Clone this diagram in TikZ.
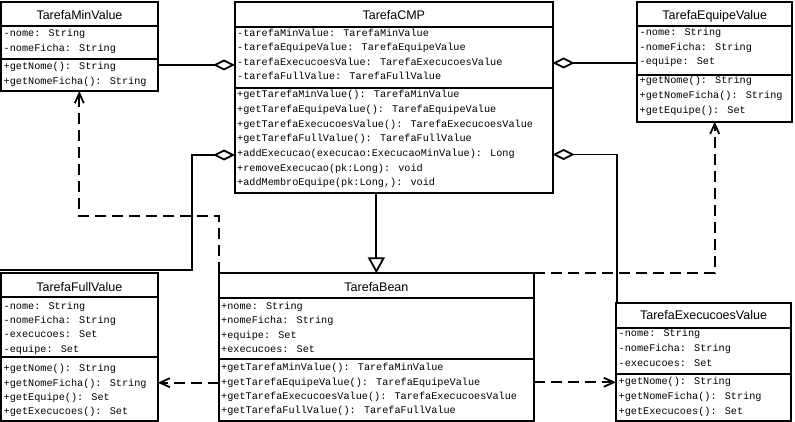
\documentclass[tikz,border=0pt]{standalone}
\usepackage{fontspec}
\setmainfont{Liberation Sans}
\newfontfamily\monof{Liberation Mono}
\usetikzlibrary{arrows.meta,calc}
\newcommand\titlef{\fontsize{12.5}{14}\selectfont}
\newcommand\memf{\monof\fontsize{10.2}{12}\selectfont}
\tikzset{
  umlbox/.style={draw, line width=1.8pt, inner sep=0pt, outer sep=0pt, anchor=north west},
  ttl/.style={font=\titlef, anchor=base, inner sep=0pt},
  mem/.style={font=\memf, anchor=base west, inner sep=0pt},
  sepline/.style={line width=1.8pt},
  agg/.style={line width=1.8pt, -{Diamond[open, length=22pt, width=11pt]}},
  gen/.style={line width=1.8pt, -{Triangle[open, length=16pt, width=17pt]}},
  dep/.style={line width=1.8pt, dash pattern=on 11pt off 6pt, -{Straight Barb[length=10pt, width=9pt]}}
}
\begin{document}
\begin{tikzpicture}[x=1pt, y=-1pt]
\fill[white] (0,0) rectangle (795,422);
\useasboundingbox (0,0) rectangle (795,422);

% ---------- TarefaMinValue ----------
\node[umlbox, minimum width=157pt, minimum height=89pt] (minv) at (1,2) {};
\draw[sepline] (minv.west |- 0,26) -- (minv.east |- 0,26);
\draw[sepline] (minv.west |- 0,59.3) -- (minv.east |- 0,59.3);
\node[ttl] (minvT) at (79.5,19.5) {TarefaMinValue};
\node[mem] (minvA1) at (3.5,36.7) {-nome: String};
\node[mem] (minvA2) at (3.5,51.2) {-nomeFicha: String};
\node[mem] (minvM1) at (3.5,70) {+getNome(): String};
\node[mem] (minvM2) at (3.5,84.5) {+getNomeFicha(): String};

% ---------- TarefaCMP ----------
\node[umlbox, minimum width=317.7pt, minimum height=190.7pt] (cmp) at (235,2) {};
\draw[sepline] (cmp.west |- 0,27) -- (cmp.east |- 0,27);
\draw[sepline] (cmp.west |- 0,88.3) -- (cmp.east |- 0,88.3);
\node[ttl] (cmpT) at (393.8,20) {TarefaCMP};
\node[mem] (cmpA1) at (237,36.5) {-tarefaMinValue: TarefaMinValue};
\node[mem] (cmpA2) at (237,51) {-tarefaEquipeValue: TarefaEquipeValue};
\node[mem] (cmpA3) at (237,65.5) {-tarefaExecucoesValue: TarefaExecucoesValue};
\node[mem] (cmpA4) at (237,80) {-tarefaFullValue: TarefaFullValue};
\node[mem] (cmpM1) at (237,97.7) {+getTarefaMinValue(): TarefaMinValue};
\node[mem] (cmpM2) at (237,112.4) {+getTarefaEquipeValue(): TarefaEquipeValue};
\node[mem] (cmpM3) at (237,127.1) {+getTarefaExecucoesValue(): TarefaExecucoesValue};
\node[mem] (cmpM4) at (237,141.8) {+getTarefaFullValue(): TarefaFullValue};
\node[mem] (cmpM5) at (237,156.5) {+addExecucao(execucao:ExecucaoMinValue): Long};
\node[mem] (cmpM6) at (237,171.2) {+removeExecucao(pk:Long): void};
\node[mem] (cmpM7) at (237,185.9) {+addMembroEquipe(pk:Long,): void};

% ---------- TarefaEquipeValue ----------
\node[umlbox, minimum width=155pt, minimum height=119.7pt] (eqv) at (637.3,2) {};
\draw[sepline] (eqv.west |- 0,26) -- (eqv.east |- 0,26);
\draw[sepline] (eqv.west |- 0,75) -- (eqv.east |- 0,75);
\node[ttl] (eqvT) at (714.8,20) {TarefaEquipeValue};
\node[mem] (eqvA1) at (639.5,36) {-nome: String};
\node[mem] (eqvA2) at (639.5,50.5) {-nomeFicha: String};
\node[mem] (eqvA3) at (639.5,65) {-equipe: Set};
\node[mem] (eqvM1) at (639.5,83.3) {+getNome(): String};
\node[mem] (eqvM2) at (639.5,98.3) {+getNomeFicha(): String};
\node[mem] (eqvM3) at (639.5,113.3) {+getEquipe(): Set};

% ---------- TarefaFullValue ----------
\node[umlbox, minimum width=156.7pt, minimum height=147.4pt] (full) at (1,273.3) {};
\draw[sepline] (full.west |- 0,297.3) -- (full.east |- 0,297.3);
\draw[sepline] (full.west |- 0,356.7) -- (full.east |- 0,356.7);
\node[ttl] (fullT) at (79.3,291.7) {TarefaFullValue};
\node[mem] (fullA1) at (3.5,309) {-nome: String};
\node[mem] (fullA2) at (3.5,323.3) {-nomeFicha: String};
\node[mem] (fullA3) at (3.5,337.7) {-execucoes: Set};
\node[mem] (fullA4) at (3.5,352.1) {-equipe: Set};
\node[mem] (fullM1) at (3.5,371.7) {+getNome(): String};
\node[mem] (fullM2) at (3.5,386) {+getNomeFicha(): String};
\node[mem] (fullM3) at (3.5,400.3) {+getEquipe(): Set};
\node[mem] (fullM4) at (3.5,414.6) {+getExecucoes(): Set};

% ---------- TarefaBean ----------
\node[umlbox, minimum width=314.7pt, minimum height=147.4pt] (bean) at (219,273.3) {};
\draw[sepline] (bean.west |- 0,297.7) -- (bean.east |- 0,297.7);
\draw[sepline] (bean.west |- 0,359.3) -- (bean.east |- 0,359.3);
\node[ttl] (beanT) at (376.4,291.7) {TarefaBean};
\node[mem] (beanA1) at (221,309.3) {+nome: String};
\node[mem] (beanA2) at (221,323.7) {+nomeFicha: String};
\node[mem] (beanA3) at (221,338.1) {+equipe: Set};
\node[mem] (beanA4) at (221,352.5) {+execucoes: Set};
\node[mem] (beanM1) at (221,370.7) {+getTarefaMinValue(): TarefaMinValue};
\node[mem] (beanM2) at (221,385) {+getTarefaEquipeValue(): TarefaEquipeValue};
\node[mem] (beanM3) at (221,399.3) {+getTarefaExecucoesValue(): TarefaExecucoesValue};
\node[mem] (beanM4) at (221,413.6) {+getTarefaFullValue(): TarefaFullValue};

% ---------- TarefaExecucoesValue ----------
\node[umlbox, minimum width=175pt, minimum height=118pt] (exe) at (616,302.7) {};
\draw[sepline] (exe.west |- 0,327.7) -- (exe.east |- 0,327.7);
\draw[sepline] (exe.west |- 0,374) -- (exe.east |- 0,374);
\node[ttl] (exeT) at (703.5,319.3) {TarefaExecucoesValue};
\node[mem] (exeA1) at (618.5,336.7) {-nome: String};
\node[mem] (exeA2) at (618.5,351.7) {-nomeFicha: String};
\node[mem] (exeA3) at (618.5,366.7) {-execucoes: Set};
\node[mem] (exeM1) at (618.5,384) {+getNome(): String};
\node[mem] (exeM2) at (618.5,399) {+getNomeFicha(): String};
\node[mem] (exeM3) at (618.5,414) {+getExecucoes(): Set};

% ---------- connectors ----------
% aggregations
\draw[agg] (minv.east |- 0,65) -- (cmp.west |- 0,65);
\draw[agg] (eqv.west |- 0,63) -- (cmp.east |- 0,63);
\coordinate (fullStart) at ($(full.north west)+(-1,-3.3)$);
\coordinate (fullBend) at ($(cmp.west |- 0,155)+(-43,0)$);
\draw[agg] (fullStart) -| (fullBend) -- (cmp.west |- 0,155);
\coordinate (exeStart) at ($(exe.north west)+(0.7,0)$);
\draw[agg] (exeStart) |- (cmp.east |- 0,154.5);

% generalization
\draw[gen] (cmp.south -| bean.north) -- (bean.north);

% dependencies
\coordinate (minvA) at ($(minv.south west)+(78.3,0)$);
\draw[dep] (bean.north west) |- ($(minvA)+(0,125)$) -- (minvA);
\coordinate (eqvA) at ($(eqv.south west)+(77.4,0)$);
\draw[dep] (bean.north east) -| (eqvA);
\draw[dep] (bean.west |- 0,382.7) -- (full.east |- 0,382.7);
\draw[dep] (bean.east |- 0,382.3) -- (exe.west |- 0,382.3);
\end{tikzpicture}
\end{document}
